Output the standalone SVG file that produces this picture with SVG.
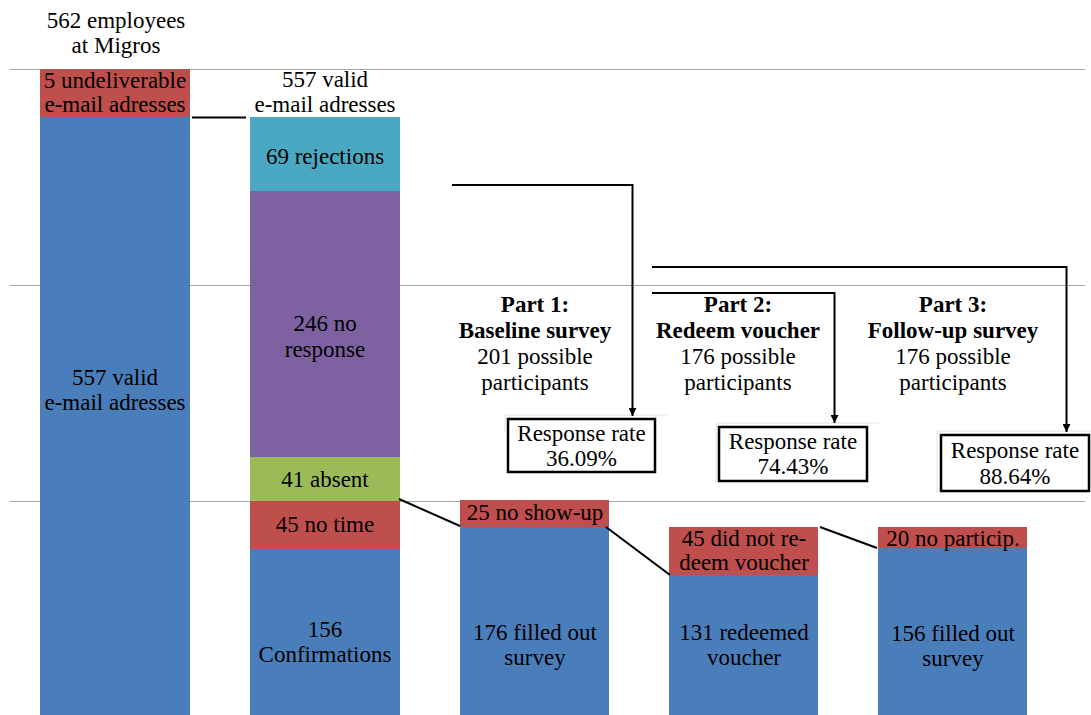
<svg xmlns="http://www.w3.org/2000/svg" width="1091" height="715" viewBox="0 0 1091 715">
  <defs>
    <marker id="arrow" viewBox="0 0 10 10" refX="10" refY="5" markerWidth="4" markerHeight="4" orient="auto" markerUnits="strokeWidth">
      <path d="M0,0 L10,5 L0,10 z" fill="#000"/>
    </marker>
    <style>
      .t { font-family: "Liberation Serif", "Times New Roman", serif; font-size: 23px; fill: #000; text-anchor: middle; }
      .b { font-weight: bold; }
      .grid { stroke: #A6A6A6; stroke-width: 1.2; }
      .blue { fill: #4A7EBB; }
      .red { fill: #BE4F4C; }
      .teal { fill: #4BA8C2; }
      .purple { fill: #7D61A0; }
      .green { fill: #9BBB59; }
      .conn { stroke: #000; stroke-width: 2; fill: none; }
      .box { fill: #fff; stroke: #000; stroke-width: 2.5; }
      .shadow { fill: none; stroke: #E4E4E4; stroke-width: 1; }
    </style>
  </defs>

  <rect width="1091" height="715" fill="#fff"/>

  <!-- horizontal gridlines -->
  <g id="gridlines">
    <line class="grid" x1="10" y1="69.5" x2="1085" y2="69.5"/>
    <line class="grid" x1="10" y1="285.5" x2="1085" y2="285.5"/>
    <line class="grid" x1="10" y1="501.5" x2="1085" y2="501.5"/>
  </g>

  <g class="t">
  <!-- column 1: all employees -->
  <g id="employees">
    <text x="116" y="28">562 employees</text>
    <text x="116" y="53">at Migros</text>
    <rect class="red" x="40" y="69" width="150" height="48"/>
    <rect class="blue" x="40" y="117" width="150" height="600"/>
    <text x="115" y="88">5 undeliverable</text>
    <text x="115" y="112">e-mail adresses</text>
    <text x="115" y="385">557 valid</text>
    <text x="115" y="410">e-mail adresses</text>
  </g>

  <!-- column 2: valid addresses -->
  <g id="valid-addresses">
    <text x="325" y="87">557 valid</text>
    <text x="325" y="112">e-mail adresses</text>
    <rect class="teal" x="250" y="117" width="150" height="74"/>
    <rect class="purple" x="250" y="191" width="150" height="266"/>
    <rect class="green" x="250" y="457" width="150" height="44"/>
    <rect class="red" x="250" y="501" width="150" height="48"/>
    <rect class="blue" x="250" y="549" width="150" height="168"/>
    <text x="325" y="164">69 rejections</text>
    <text x="325" y="331">246 no</text>
    <text x="325" y="357">response</text>
    <text x="325" y="487">41 absent</text>
    <text x="325" y="532">45 no time</text>
    <text x="325" y="637">156</text>
    <text x="325" y="662">Confirmations</text>
  </g>

  <!-- column 3: baseline survey -->
  <g id="baseline">
    <rect class="red" x="460" y="500" width="149" height="27"/>
    <rect class="blue" x="460" y="527" width="149" height="190"/>
    <text x="535" y="520">25 no show-up</text>
    <text x="535" y="640">176 filled out</text>
    <text x="535" y="665">survey</text>
  </g>

  <!-- column 4: voucher -->
  <g id="voucher">
    <rect class="red" x="669" y="527" width="149" height="48"/>
    <rect class="blue" x="669" y="575" width="149" height="142"/>
    <text x="744" y="546">45 did not re-</text>
    <text x="744" y="570">deem voucher</text>
    <text x="744" y="640">131 redeemed</text>
    <text x="744" y="665">voucher</text>
  </g>

  <!-- column 5: follow-up survey -->
  <g id="followup">
    <rect class="red" x="878" y="527" width="149" height="21"/>
    <rect class="blue" x="878" y="548" width="149" height="169"/>
    <text x="953" y="546">20 no particip.</text>
    <text x="953" y="641">156 filled out</text>
    <text x="953" y="666">survey</text>
  </g>

  <!-- part headings -->
  <g id="part1">
    <text class="b" x="535" y="312">Part 1:</text>
    <text class="b" x="535" y="338">Baseline survey</text>
    <text x="535" y="364">201 possible</text>
    <text x="535" y="390">participants</text>
  </g>
  <g id="part2">
    <text class="b" x="738" y="312">Part 2:</text>
    <text class="b" x="738" y="338">Redeem voucher</text>
    <text x="738" y="364">176 possible</text>
    <text x="738" y="390">participants</text>
  </g>
  <g id="part3">
    <text class="b" x="953" y="312">Part 3:</text>
    <text class="b" x="953" y="338">Follow-up survey</text>
    <text x="953" y="364">176 possible</text>
    <text x="953" y="390">participants</text>
  </g>

  <!-- response rate boxes -->
  <g id="rate1">
    <path class="shadow" d="M505,432 V415 H667"/>
    <rect class="box" x="508" y="419" width="147" height="53"/>
    <text x="581.5" y="441">Response rate</text>
    <text x="581.5" y="466">36.09%</text>
  </g>
  <g id="rate2">
    <path class="shadow" d="M716,483 V423 H879"/>
    <rect class="box" x="719" y="427" width="148" height="54"/>
    <text x="793" y="449">Response rate</text>
    <text x="793" y="474">74.43%</text>
  </g>
  <g id="rate3">
    <path class="shadow" d="M937,493 V431 H1091"/>
    <rect class="box" x="941" y="435" width="148" height="56"/>
    <text x="1015" y="458">Response rate</text>
    <text x="1015" y="484">88.64%</text>
  </g>
  </g>

  <!-- connectors -->
  <g id="connectors">
    <line class="conn" x1="192" y1="117.5" x2="246" y2="117.5" stroke-width="1.8"/>
    <line class="conn" x1="399" y1="499" x2="460" y2="526" stroke-width="1.6"/>
    <line class="conn" x1="606" y1="527" x2="670" y2="575" stroke-width="1.6"/>
    <line class="conn" x1="820" y1="527" x2="877" y2="548" stroke-width="1.6"/>
    <path class="conn" d="M452,185 H632.5 V416" marker-end="url(#arrow)"/>
    <path class="conn" d="M652,293 H834.5 V423" marker-end="url(#arrow)"/>
    <path class="conn" d="M652,267 H1066.5 V432" marker-end="url(#arrow)"/>
  </g>
</svg>
